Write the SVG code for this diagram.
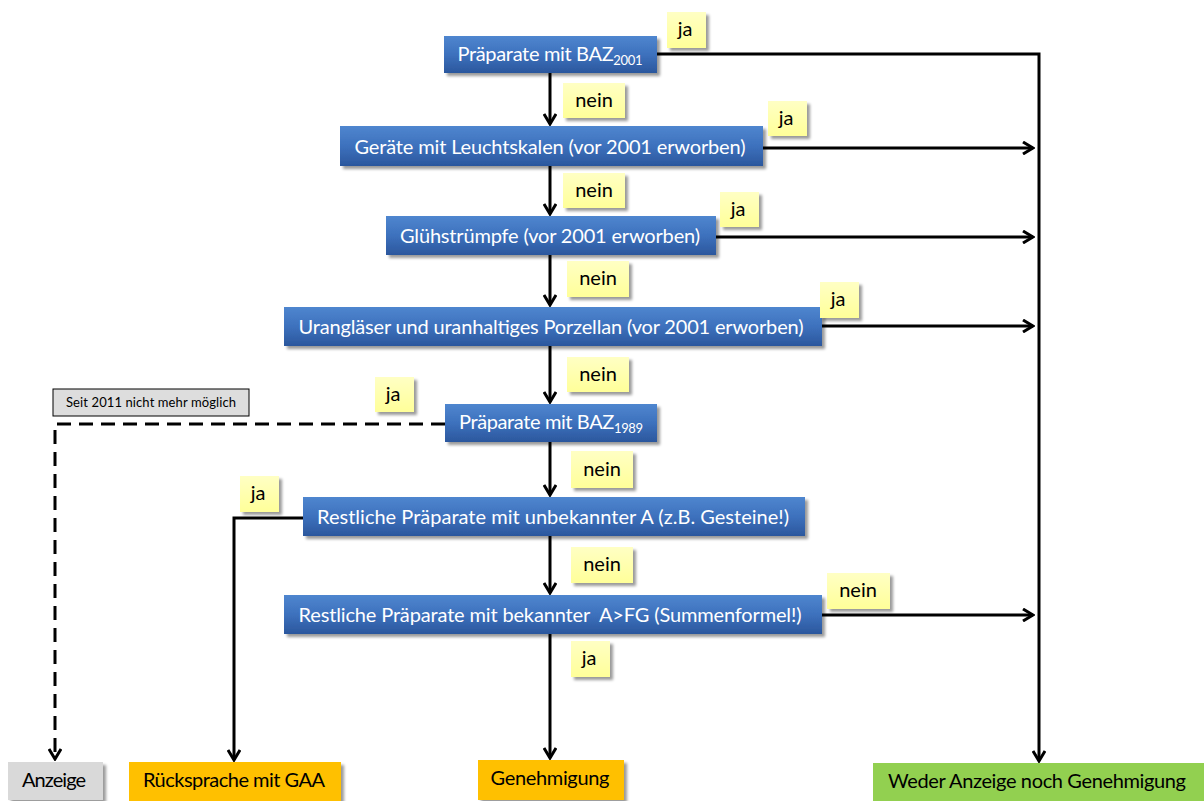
<svg xmlns="http://www.w3.org/2000/svg" width="1204" height="801" viewBox="0 0 1204 801">
<defs>
<linearGradient id="blue" x1="0" y1="0" x2="0" y2="1">
<stop offset="0" stop-color="#4F86CF"/>
<stop offset="0.5" stop-color="#3D71BD"/>
<stop offset="1" stop-color="#2B579D"/>
</linearGradient>
<linearGradient id="yel" x1="0" y1="0" x2="0" y2="1">
<stop offset="0" stop-color="#FFFFC4"/>
<stop offset="1" stop-color="#FFFF99"/>
</linearGradient>
<filter id="sh" x="-10%" y="-20%" width="130%" height="160%">
<feGaussianBlur in="SourceAlpha" stdDeviation="1.5"/>
<feOffset dx="3" dy="3" result="o"/>
<feComponentTransfer><feFuncA type="linear" slope="0.4"/></feComponentTransfer>
<feMerge><feMergeNode/><feMergeNode in="SourceGraphic"/></feMerge>
</filter>
<marker id="ar" markerWidth="14" markerHeight="14" viewBox="-12 -7 14 14" refX="0" refY="0" orient="auto" markerUnits="userSpaceOnUse">
<path d="M-10,-6 L0,0 L-10,6" fill="none" stroke="#000" stroke-width="3"/>
</marker>
</defs>
<style>
.box{fill:url(#blue);filter:url(#sh)}
.bt{fill:#fff;font-family:Lato,"Open Sans","Liberation Sans",sans-serif;font-size:20px;text-anchor:middle}
.lab{fill:url(#yel);filter:url(#sh)}
.lt{fill:#000;font-family:Lato,"Open Sans","Liberation Sans",sans-serif;font-size:20px;text-anchor:middle}
.ot{fill:#000;font-family:Lato,"Open Sans","Liberation Sans",sans-serif;font-size:20px;text-anchor:middle}
.ln{fill:none;stroke:#000;stroke-width:3}
.ar{marker-end:url(#ar)}
.dash{stroke-dasharray:14 8}
</style>

<g id="connectors">
<path class="ln ar" d="M550,73 V124"/>
<path class="ln ar" d="M550,166 V214"/>
<path class="ln ar" d="M550,255 V305"/>
<path class="ln ar" d="M550,346 V402"/>
<path class="ln ar" d="M550,442 V495"/>
<path class="ln ar" d="M550,536 V593"/>
<path class="ln ar" d="M550,634 V758"/>
<path class="ln ar" d="M657,54 H1039 V761"/>
<path class="ln ar" d="M763,148 H1033"/>
<path class="ln ar" d="M716,237 H1033"/>
<path class="ln ar" d="M822,326 H1033"/>
<path class="ln ar" d="M822,615 H1033"/>
<path class="ln ar dash" d="M445,424 H55 V759"/>
<path class="ln ar" d="M303,518 H234 V760"/>
</g>

<g id="n1"><rect class="box" x="444" y="36" width="213" height="37"/><text class="bt" x="550" y="61" textLength="185">Präparate mit BAZ<tspan font-size="13" dy="4">2001</tspan></text></g>
<g id="n2"><rect class="box" x="340" y="126" width="423" height="40"/><text class="bt" x="550" y="154" textLength="391">Geräte mit Leuchtskalen (vor 2001 erworben)</text></g>
<g id="n3"><rect class="box" x="386" y="216" width="330" height="39"/><text class="bt" x="550" y="243" textLength="300">Glühstrümpfe (vor 2001 erworben)</text></g>
<g id="n4"><rect class="box" x="284" y="307" width="538" height="39"/><text class="bt" x="551" y="334" textLength="505">Urangläser und uranhaltiges Porzellan (vor 2001 erworben)</text></g>
<g id="n5"><rect class="box" x="445" y="404" width="212" height="38"/><text class="bt" x="551" y="429" textLength="184">Präparate mit BAZ<tspan font-size="13" dy="4">1989</tspan></text></g>
<g id="n6"><rect class="box" x="303" y="497" width="502" height="39"/><text class="bt" x="553" y="524" textLength="472">Restliche Präparate mit unbekannter A (z.B. Gesteine!)</text></g>
<g id="n7"><rect class="box" x="284" y="595" width="538" height="39"/><text class="bt" x="550" y="622" textLength="503" xml:space="preserve">Restliche Präparate mit bekannter  A&gt;FG (Summenformel!)</text></g>

<g id="o1"><rect x="8" y="762" width="95" height="38" fill="#D9D9D9" filter="url(#sh)"/><text class="ot" x="54" y="787" textLength="64">Anzeige</text></g>
<g id="o2"><rect x="129" y="762" width="212" height="39" fill="#FFC000" filter="url(#sh)"/><text class="ot" x="234" y="787" textLength="182">Rücksprache mit GAA</text></g>
<g id="o3"><rect x="478" y="760" width="146" height="40" fill="#FFC000" filter="url(#sh)"/><text class="ot" x="550" y="785" textLength="119">Genehmigung</text></g>
<g id="o4"><rect x="873" y="763" width="331" height="38" fill="#92D050"/><text class="ot" x="1037" y="788" textLength="298">Weder Anzeige noch Genehmigung</text></g>

<g id="note"><rect x="53" y="389" width="196" height="27" fill="#DDDDDD" stroke="#000" stroke-width="1"/><text x="151" y="407" font-family="Lato, Open Sans, Liberation Sans, sans-serif" font-size="13" text-anchor="middle" textLength="170">Seit 2011 nicht mehr möglich</text></g>

<g id="labels">
<g id="l1"><rect class="lab" x="667" y="12" width="39" height="36"/><text class="lt" x="685" y="36">ja</text></g>
<g id="l2"><rect class="lab" x="563" y="83" width="62" height="35"/><text class="lt" x="594" y="107">nein</text></g>
<g id="l3"><rect class="lab" x="768" y="101" width="39" height="35"/><text class="lt" x="786" y="125">ja</text></g>
<g id="l4"><rect class="lab" x="563" y="173" width="62" height="35"/><text class="lt" x="594" y="197">nein</text></g>
<g id="l5"><rect class="lab" x="720" y="192" width="39" height="35"/><text class="lt" x="738" y="216">ja</text></g>
<g id="l6"><rect class="lab" x="567" y="261" width="62" height="36"/><text class="lt" x="598" y="285">nein</text></g>
<g id="l7"><rect class="lab" x="820" y="282" width="39" height="36"/><text class="lt" x="838" y="306">ja</text></g>
<g id="l8"><rect class="lab" x="567" y="357" width="62" height="35"/><text class="lt" x="598" y="381">nein</text></g>
<g id="l9"><rect class="lab" x="375" y="377" width="39" height="35"/><text class="lt" x="393" y="401">ja</text></g>
<g id="l10"><rect class="lab" x="571" y="451" width="62" height="37"/><text class="lt" x="602" y="476">nein</text></g>
<g id="l11"><rect class="lab" x="240" y="476" width="39" height="36"/><text class="lt" x="258" y="500">ja</text></g>
<g id="l12"><rect class="lab" x="571" y="547" width="62" height="36"/><text class="lt" x="602" y="571">nein</text></g>
<g id="l13"><rect class="lab" x="827" y="573" width="63" height="36"/><text class="lt" x="858" y="597">nein</text></g>
<g id="l14"><rect class="lab" x="571" y="641" width="39" height="36"/><text class="lt" x="589" y="665">ja</text></g>
</g>
</svg>
